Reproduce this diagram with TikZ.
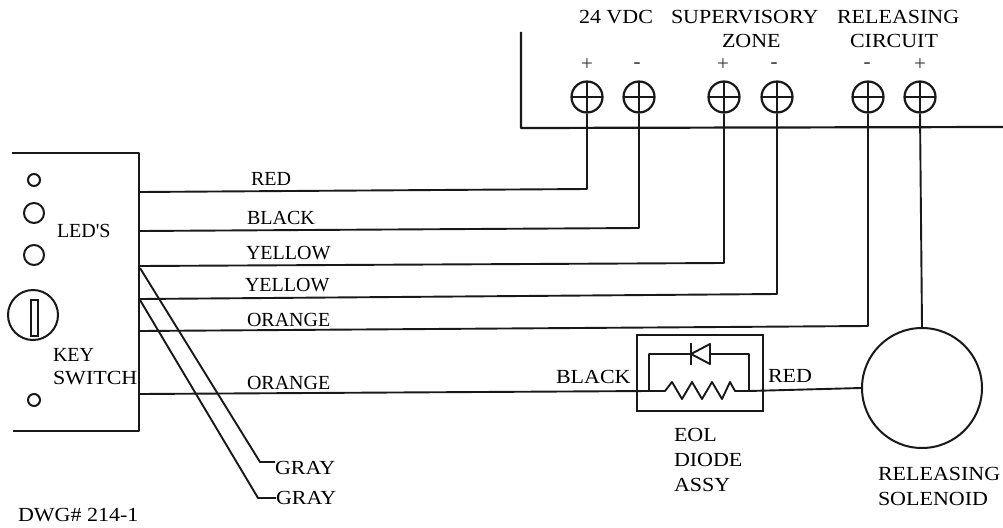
\documentclass[tikz,border=0pt]{standalone}
\usepackage{fontspec}
\setmainfont{Liberation Serif}
\newfontfamily\widefont[FakeStretch=1.1]{Liberation Serif}
\begin{document}
\begin{tikzpicture}[x=1pt,y=-1pt,
  wire/.style={line width=1.9pt,black!90,line join=round},
  heavy/.style={line width=2.2pt,black!90,line join=round},
  lbl/.style={anchor=west,inner sep=0pt,outer sep=0pt,font=\fontsize{20}{22}\selectfont,text=black},
  wlbl/.style={anchor=west,inner sep=0pt,outer sep=0pt,font=\widefont\fontsize{20}{22}\selectfont,text=black},
  signlbl/.style={inner sep=0pt,font=\fontsize{21}{22}\selectfont,text=black!80},
  terminal/.style={circle,draw,line width=2.2pt,black!90,minimum size=31pt,inner sep=0pt,path picture={
    \draw[line width=1.9pt] (path picture bounding box.north) -- (path picture bounding box.south)
      (path picture bounding box.west) -- (path picture bounding box.east);}},
  led/.style={circle,draw,line width=2pt,black!90,inner sep=0pt}
]
\useasboundingbox (0,0) rectangle (1003,527);
\fill[white] (0,0) rectangle (1003,527);

% control panel outline
\coordinate (pa) at (521,32); \coordinate (pb) at (521,128); \coordinate (pc) at (1003,127);
\draw[heavy] (pa) -- (pb) -- (pc);

% terminals
\node[terminal] (t1) at (587,97) {};
\node[terminal] (t2) at (639,97) {};
\node[terminal] (t3) at (724,97) {};
\node[terminal] (t4) at (777,97) {};
\node[terminal] (t5) at (868,97) {};
\node[terminal] (t6) at (920,97) {};
\node[signlbl] (s1) at (587,65) {+};
\node[signlbl] (s2) at (637,66) {-};
\node[signlbl] (s3) at (723,65) {+};
\node[signlbl] (s4) at (774,66) {-};
\node[signlbl] (s5) at (867,66) {-};
\node[signlbl] (s6) at (920,65) {+};

% header labels
\node[wlbl] (h1) at (579,17) {24 VDC};
\node[wlbl] (h2) at (671,17) {SUPERVISORY};
\node[wlbl] (h3) at (722,41) {ZONE};
\node[wlbl] (h4) at (837,17) {RELEASING};
\node[wlbl] (h5) at (850,41) {CIRCUIT};

% key switch housing
\coordinate (ka) at (12,153); \coordinate (kb) at (139,153); \coordinate (kc) at (139,431); \coordinate (kd) at (13,431);
\draw[heavy] (ka) -- (kb) -- (kc) -- (kd);
\node[led,minimum size=12pt] (l1) at (34,180) {};
\node[led,minimum size=20pt] (l2) at (34,213) {};
\node[led,minimum size=20pt] (l3) at (34,255) {};
\node[led,minimum size=12pt] (l4) at (34,400) {};
\node[led,minimum size=50pt] (key) at (33,315) {};
\node[draw,line width=1.7pt,black!90,minimum width=7pt,minimum height=36pt,inner sep=0pt] (slot) at (34.5,318) {};
\node[lbl] (ledtxt) at (57,231) {LED\textquotesingle S};
\node[lbl] (keytxt) at (53,355) {KEY};
\node[wlbl] (swtxt) at (53,378) {SWITCH};
\node[wlbl] (dwg) at (18,515) {DWG\# 214-1};

% wires to terminals
\coordinate (w1) at (140,192); \coordinate (b1) at (587,189);
\coordinate (w2) at (140,231); \coordinate (b2) at (639,228);
\coordinate (w3) at (140,266); \coordinate (b3) at (724,263);
\coordinate (w4) at (140,299); \coordinate (b4) at (777,294);
\coordinate (w5) at (140,331); \coordinate (b5) at (868,326);
\draw[wire] (w1) -- (b1) -- (t1.south);
\draw[wire] (w2) -- (b2) -- (t2.south);
\draw[wire] (w3) -- (b3) -- (t3.south);
\draw[wire] (w4) -- (b4) -- (t4.south);
\draw[wire] (w5) -- (b5) -- (t5.south);

\node[lbl] (c1) at (251,179) {RED};
\node[lbl] (c2) at (247,218) {BLACK};
\node[lbl] (c3) at (246,253) {YELLOW};
\node[lbl] (c4) at (245,285) {YELLOW};
\node[lbl] (c5) at (247,320) {ORANGE};
\node[lbl] (c6) at (247,383) {ORANGE};

% gray wires
\node[wlbl] (g1) at (275,468) {GRAY};
\node[wlbl] (g2) at (276,498) {GRAY};
\coordinate (gs1) at (140,268); \coordinate (gb1) at (260,462);
\coordinate (gs2) at (140,300); \coordinate (gb2) at (258,498);
\draw[wire] (gs1) -- (gb1) -- (g1.north west |- gb1);
\draw[wire] (gs2) -- (gb2) -- (g2.west);

% EOL diode assembly
\node[draw,line width=2.1pt,black!90,minimum width=126pt,minimum height=76pt,inner sep=0pt] (eol) at (700,373) {};
\coordinate (jl) at (649,391); \coordinate (jr) at (749,391);
\coordinate (tl) at (649,354); \coordinate (tr) at (749,354);
\coordinate (da) at (691,354); \coordinate (dk) at (710,354);
\draw[wire] (da) -- (tl) -- (jl) -- (665,391) -- (672,382) -- (682,399) -- (692,382) -- (702,399) -- (712,382) -- (722,399) -- (730,382) -- (735,391) -- (jr) -- (tr) -- (dk);
\draw[wire] (691,343) -- (691,365);
\draw[wire] (691,354) -- (710,344) -- (710,364) -- cycle;

\node[wlbl] (bl) at (556,377) {BLACK};
\node[wlbl] (rd) at (768,376) {RED};
\node[wlbl] (e1) at (674,435) {EOL};
\node[wlbl] (e2) at (674,460) {DIODE};
\node[wlbl] (e3) at (674,485) {ASSY};

% solenoid
\node[circle,draw,line width=2pt,black!90,minimum size=120pt,inner sep=0pt] (sol) at (922,388) {};
\node[wlbl] (r1) at (878,474) {RELEASING};
\node[wlbl] (r2) at (878,499) {SOLENOID};

\coordinate (w6) at (140,394);
\draw[wire] (w6) -- (jl);
\draw[wire] (jr) -- (sol.west);
\draw[wire] (t6.south) -- (sol.north);
\end{tikzpicture}
\end{document}
